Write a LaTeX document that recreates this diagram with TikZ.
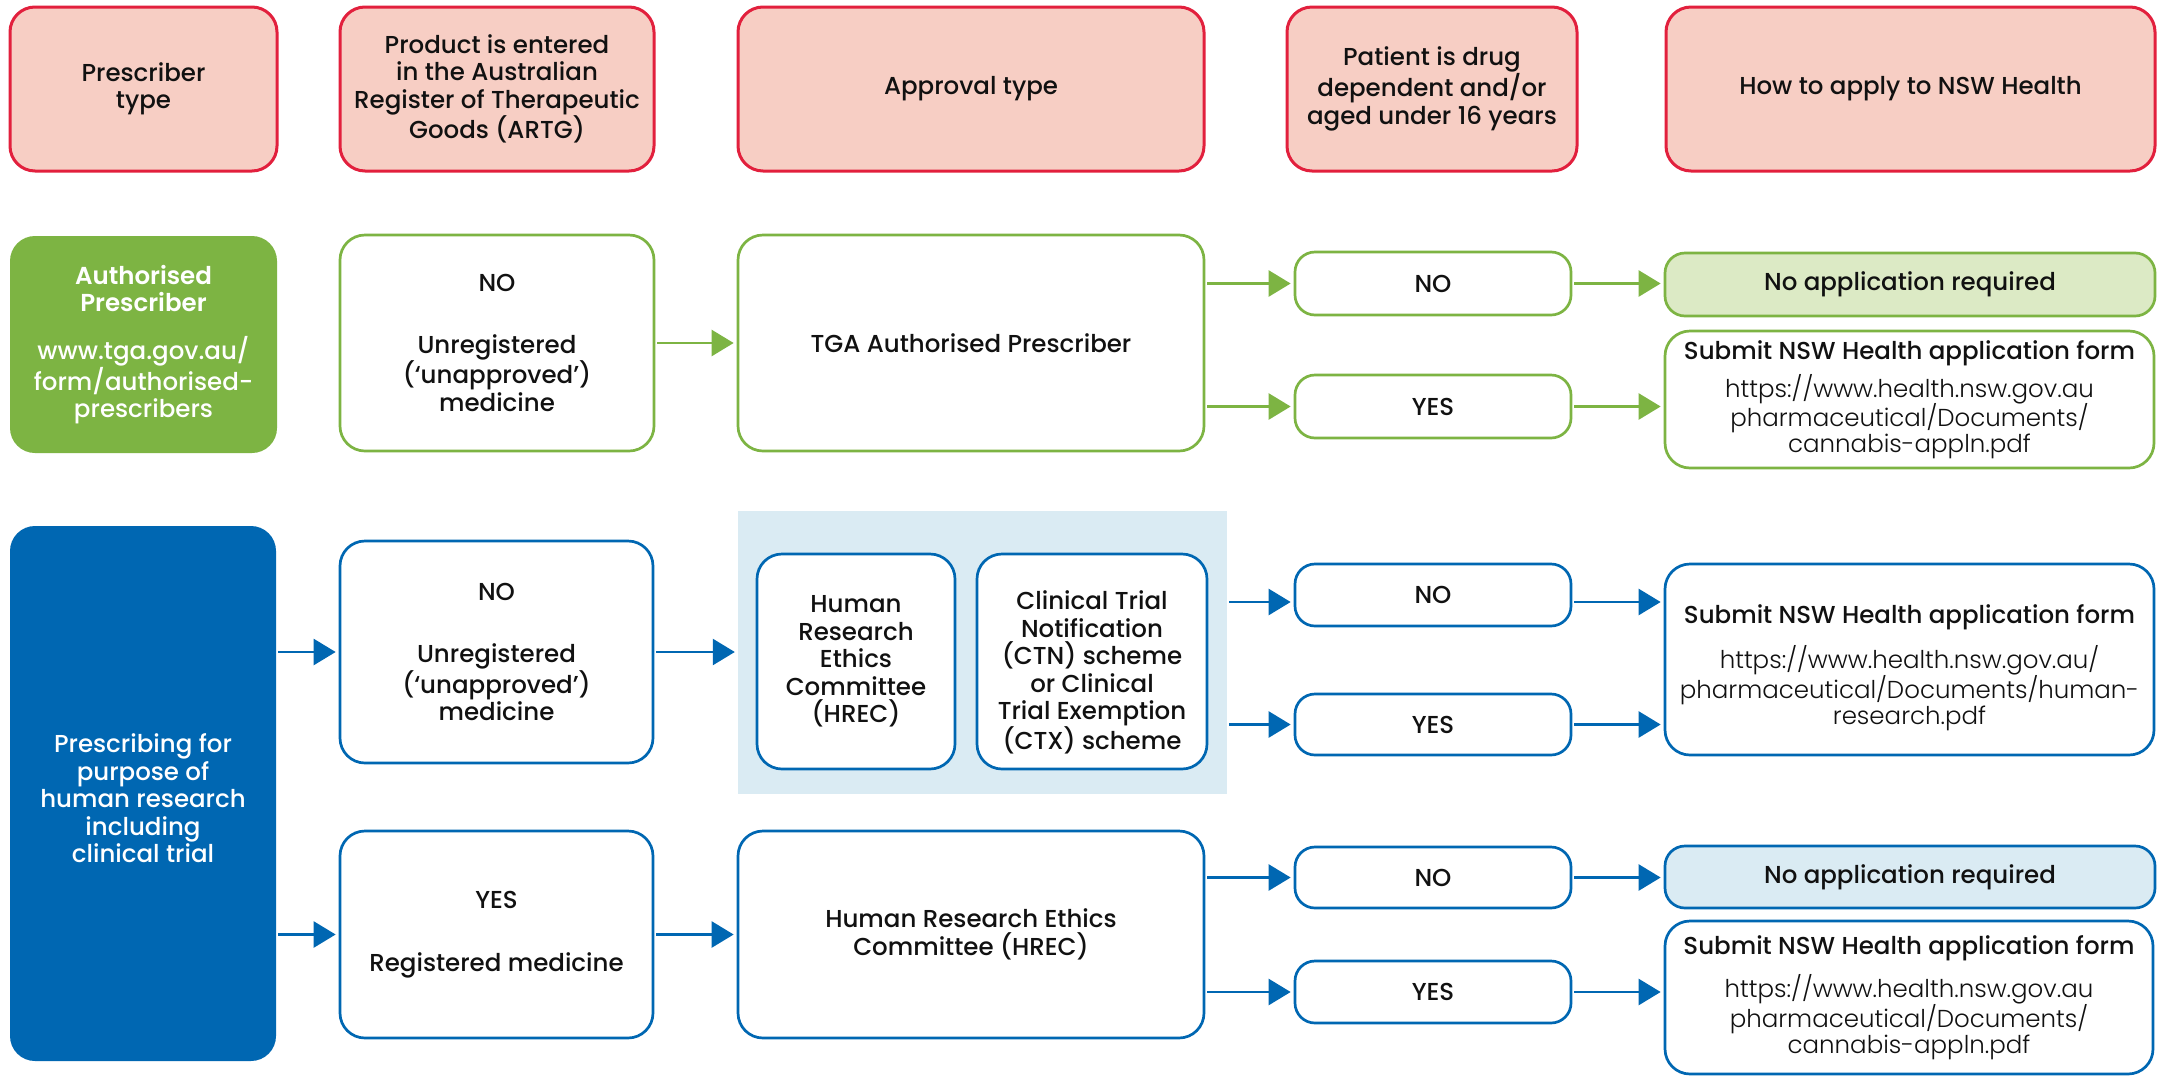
\documentclass[tikz,border=0pt]{standalone}
\usepackage{fontspec}
\IfFontExistsTF{Poppins Medium}{\setmainfont{Poppins Medium}}{%
 \IfFontExistsTF{Poppins-Medium.otf}{\setmainfont{Poppins-Medium.otf}}{%
  \IfFontExistsTF{Poppins-Medium.ttf}{\setmainfont{Poppins-Medium.ttf}}{%
   \setmainfont{Poppins}[FakeBold=1.2]}}}
\IfFontExistsTF{Poppins Light}{\newfontfamily\lightfont{Poppins Light}}{%
 \IfFontExistsTF{Poppins-Light.otf}{\newfontfamily\lightfont{Poppins-Light.otf}}{%
  \IfFontExistsTF{Poppins-Light.ttf}{\newfontfamily\lightfont{Poppins-Light.ttf}}{%
   \newfontfamily\lightfont{Poppins}}}}
\IfFontExistsTF{Poppins SemiBold}{\newfontfamily\semibold{Poppins SemiBold}}{%
 \IfFontExistsTF{Poppins-SemiBold.otf}{\newfontfamily\semibold{Poppins-SemiBold.otf}}{%
  \IfFontExistsTF{Poppins-SemiBold.ttf}{\newfontfamily\semibold{Poppins-SemiBold.ttf}}{%
   \newfontfamily\semibold{Poppins}[FakeBold=2.5]}}}
\usetikzlibrary{arrows.meta}
\definecolor{hdrfill}{HTML}{F7CEC4}
\definecolor{hdrline}{HTML}{E2203D}
\definecolor{grn}{HTML}{7DB443}
\definecolor{grnlight}{HTML}{DCEAC5}
\definecolor{blu}{HTML}{0067B2}
\definecolor{blulight}{HTML}{DAEBF3}
\definecolor{txt}{HTML}{111111}
\newcommand\mkbox[7][]{%
  \node[#1, minimum width={(#5-#3)*1pt}, minimum height={(#6-#4)*1pt}] (#2) at ({(#3+#5)/2},{(#4+#6)/2}) {#7};}
\newcommand\urlgap{\\[-1.5pt]}
\tikzset{
  base/.style={align=center, inner sep=0pt, text=txt, font=\fontsize{24.5}{27.5}\selectfont},
  hdr/.style={base, draw=hdrline, fill=hdrfill, line width=3pt, rounded corners=25pt},
  gbox/.style={base, draw=grn, fill=white, line width=2.7pt, rounded corners=25pt},
  gpill/.style={base, draw=grn, fill=white, line width=2.7pt, rounded corners=20pt},
  bbox/.style={base, draw=blu, fill=white, line width=2.7pt, rounded corners=25pt},
  bpill/.style={base, draw=blu, fill=white, line width=2.7pt, rounded corners=20pt},
  garr/.style={draw=grn, line width=2.5pt, -{Triangle[length=22pt,width=26pt]}, shorten <=2pt, shorten >=3pt},
  barr/.style={draw=blu, line width=2.5pt, -{Triangle[length=22pt,width=26pt]}, shorten <=2pt, shorten >=3pt},
}
\begin{document}
\begin{tikzpicture}[x=1pt,y=-1pt]
\fill[white] (0,0) rectangle (2163,1077);
\useasboundingbox (0,0) rectangle (2163,1077);
% header row
\mkbox[hdr]{h1}{10}{7}{277}{171}{Prescriber\\type}
\mkbox[hdr]{h2}{340}{7}{654}{171}{Product is entered\\in the Australian\\Register of Therapeutic\\Goods (ARTG)}
\mkbox[hdr]{h3}{738}{7}{1204}{171}{Approval type}
\mkbox[hdr]{h4}{1287}{7}{1577}{171}{Patient is drug\\dependent and/or\\aged under 16 years}
\mkbox[hdr]{h5}{1666}{7}{2155}{171}{How to apply to NSW Health}
% green row
\mkbox[base, fill=grn, rounded corners=25pt, text=white]{g1}{10}{236}{277}{453}{{\semibold Authorised}\\{\semibold Prescriber}\\[20pt]www.tga.gov.au/\\form/authorised-\\prescribers}
\mkbox[gbox]{g2}{340}{235}{654}{451}{NO\\[34pt]Unregistered\\(‘unapproved’)\\medicine}
\mkbox[gbox]{g3}{738}{235}{1204}{451}{TGA Authorised Prescriber}
\mkbox[gpill]{g4n}{1295}{252}{1571}{315}{NO}
\mkbox[gpill]{g4y}{1295}{375}{1571}{438}{YES}
\mkbox[gpill, fill=grnlight]{g5n}{1665}{253}{2155}{316}{No application required}
\mkbox[gbox]{g5s}{1665}{331}{2154}{468}{Submit NSW Health application form\\[8pt]{\lightfont https://www.health.nsw.gov.au}\urlgap{\lightfont pharmaceutical/Documents/}\urlgap{\lightfont cannabis-appln.pdf}}
% blue section
\mkbox[base, fill=blu, rounded corners=25pt]{b1}{10}{526}{276}{1061}{}
\node[base, text=white, yshift=-5pt] (b1t) at (b1.center) {Prescribing for\\purpose of\\human research\\including\\clinical trial};
\mkbox[bbox]{b2n}{340}{541}{653}{763}{NO\\[35pt]Unregistered\\(‘unapproved’)\\medicine}
\mkbox[bbox]{b2y}{340}{831}{653}{1038}{YES\\[35pt]Registered medicine}
\mkbox[base, fill=blulight]{bg}{738}{511}{1227}{794}{}
\mkbox[bbox]{hs}{757}{554}{955}{769}{Human\\Research\\Ethics\\Committee\\(HREC)}
\mkbox[bbox]{ctn}{977}{554}{1207}{769}{}
\node[base, yshift=-11pt] (ctnt) at (ctn.center) {Clinical Trial\\Notification\\(CTN) scheme\\or Clinical\\Trial Exemption\\(CTX) scheme};
\mkbox[bbox]{hb}{738}{831}{1204}{1038}{Human Research Ethics\\Committee (HREC)}
\mkbox[bpill]{n1}{1295}{564}{1571}{626}{NO}
\mkbox[bpill]{y1}{1295}{694}{1571}{755}{YES}
\mkbox[bpill]{n2}{1295}{847}{1571}{908}{NO}
\mkbox[bpill]{y2}{1295}{961}{1571}{1023}{YES}
\mkbox[bbox]{s1}{1665}{564}{2154}{755}{}
\node[base, yshift=-8pt] (s1t) at (s1.center) {Submit NSW Health application form\\[15pt]{\lightfont https://www.health.nsw.gov.au/}\urlgap{\lightfont pharmaceutical/Documents/human-}\urlgap{\lightfont research.pdf}};
\mkbox[bpill, fill=blulight]{na2}{1665}{846}{2155}{908}{No application required}
\mkbox[bbox]{s2}{1665}{921}{2153}{1074}{Submit NSW Health application form\\[13pt]{\lightfont https://www.health.nsw.gov.au}\urlgap{\lightfont pharmaceutical/Documents/}\urlgap{\lightfont cannabis-appln.pdf}}
% green arrows
\draw[garr] (g2.east) -- (g3.west |- g2.east);
\draw[garr] (g3.east |- g4n.west) -- (g4n.west);
\draw[garr] (g3.east |- g4y.west) -- (g4y.west);
\draw[garr] (g4n.east) -- (g5n.west |- g4n.east);
\draw[garr] (g4y.east) -- (g5s.west |- g4y.east);
% blue arrows
\draw[barr] (b1.east |- b2n.west) -- (b2n.west);
\draw[barr] (b1.east |- b2y.west) -- (b2y.west);
\draw[barr] (b2n.east) -- (bg.west |- b2n.east);
\draw[barr] (b2y.east) -- (hb.west |- b2y.east);
\draw[barr] (bg.east |- 0,602) -- (n1.west |- 0,602);
\draw[barr] (bg.east |- y1.west) -- (y1.west);
\draw[barr] (n1.east |- 0,602) -- (s1.west |- 0,602);
\draw[barr] (y1.east) -- (s1.west |- y1.east);
\draw[barr] (hb.east |- n2.west) -- (n2.west);
\draw[barr] (hb.east |- y2.west) -- (y2.west);
\draw[barr] (n2.east) -- (na2.west |- n2.east);
\draw[barr] (y2.east) -- (s2.west |- y2.east);
\end{tikzpicture}
\end{document}
